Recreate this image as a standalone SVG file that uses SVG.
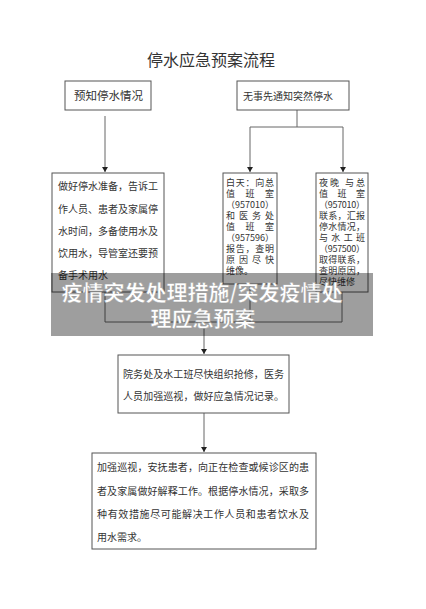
<svg xmlns="http://www.w3.org/2000/svg" width="426" height="609" viewBox="0 0 426 609">
<style>
.t{font-family:"Noto Sans CJK SC","Noto Sans CJK JP",sans-serif;fill:#333;font-size:10px}
.b{fill:#fff;stroke:#555;stroke-width:1}
.c{fill:none;stroke:#666;stroke-width:1}
.ov{font-family:"Noto Sans CJK SC",sans-serif;font-weight:bold;font-size:21px;fill:#fff;text-anchor:middle;stroke:#999;stroke-width:0.4}
</style>
<defs>
<marker id="ah" markerUnits="userSpaceOnUse" markerWidth="6" markerHeight="6" refX="5" refY="3" orient="auto">
<path d="M0,0 L5,3 L0,6 z" fill="#222"/>
</marker>
</defs>
<rect width="426" height="609" fill="#fff"/>
<text class="t" x="211" y="66" text-anchor="middle" style="font-size:16px">停水应急预案流程</text>

<g id="connectors">
<path class="c" d="M105,116 V172" marker-end="url(#ah)"/>
<path class="c" d="M297,110 V127 M250,127 H343"/>
<path class="c" d="M250,127 V172" marker-end="url(#ah)"/>
<path class="c" d="M343,127 V172" marker-end="url(#ah)"/>
<path class="c" d="M105,292 V322 H342 V292 M250,284 V322"/>
<path class="c" d="M204,322 V354" marker-end="url(#ah)"/>
<path class="c" d="M204,413 V452" marker-end="url(#ah)"/>
</g>

<g id="n1">
<rect class="b" x="65" y="81" width="86" height="29"/>
<text class="t" x="74" y="100" style="font-size:11.5px">预知停水情况</text>
</g>
<g id="n2">
<rect class="b" x="237" y="81" width="112" height="29"/>
<text class="t" x="243" y="100">无事先通知突然停水</text>
</g>
<g id="n3">
<rect class="b" x="52" y="173" width="112" height="119"/>
<text class="t" x="58" y="190" textLength="100" lengthAdjust="spacing">做好停水准备，告诉工</text>
<text class="t" x="58" y="213" textLength="100" lengthAdjust="spacing">作人员、患者及家属停</text>
<text class="t" x="58" y="235" textLength="100" lengthAdjust="spacing">水时间，多备使用水及</text>
<text class="t" x="58" y="257" textLength="100" lengthAdjust="spacing">饮用水，导管室还要预</text>
<text class="t" x="58" y="279">备手术用水</text>
</g>
<g id="n4" style="font-size:9px">
<rect class="b" x="223" y="173" width="54" height="111"/>
<text class="t" x="226" y="186" style="font-size:9px" textLength="48" lengthAdjust="spacing">白天：向总</text>
<text class="t" x="226" y="197" style="font-size:9px" textLength="48" lengthAdjust="spacing">值　班　室</text>
<text class="t" x="226" y="208" style="font-size:9px" textLength="48" lengthAdjust="spacing">（957010）</text>
<text class="t" x="226" y="219" style="font-size:9px" textLength="48" lengthAdjust="spacing">和医务处</text>
<text class="t" x="226" y="230" style="font-size:9px" textLength="48" lengthAdjust="spacing">值　班　室</text>
<text class="t" x="226" y="241" style="font-size:9px" textLength="48" lengthAdjust="spacing">（957596）</text>
<text class="t" x="226" y="252" style="font-size:9px" textLength="48" lengthAdjust="spacing">报告，查明</text>
<text class="t" x="226" y="263" style="font-size:9px" textLength="48" lengthAdjust="spacing">原因尽快</text>
<text class="t" x="226" y="274" style="font-size:9px">维像。</text>
</g>
<g id="n5">
<rect class="b" x="316" y="173" width="52" height="119"/>
<text class="t" x="319" y="186" style="font-size:9px" textLength="46" lengthAdjust="spacing">夜晚 与总</text>
<text class="t" x="319" y="197" style="font-size:9px" textLength="46" lengthAdjust="spacing">值　班　室</text>
<text class="t" x="319" y="208" style="font-size:9px" textLength="46" lengthAdjust="spacing">（957010）</text>
<text class="t" x="319" y="219" style="font-size:9px" textLength="46" lengthAdjust="spacing">联系，汇报</text>
<text class="t" x="319" y="230" style="font-size:9px" textLength="46" lengthAdjust="spacing">停水情况，</text>
<text class="t" x="319" y="241" style="font-size:9px" textLength="46" lengthAdjust="spacing">与水工班</text>
<text class="t" x="319" y="252" style="font-size:9px" textLength="46" lengthAdjust="spacing">（957500）</text>
<text class="t" x="319" y="263" style="font-size:9px" textLength="46" lengthAdjust="spacing">取得联系，</text>
<text class="t" x="319" y="274" style="font-size:9px" textLength="46" lengthAdjust="spacing">查明原因，</text>
<text class="t" x="319" y="285" style="font-size:9px">尽快维修</text>
</g>
<g id="n6">
<rect class="b" x="118" y="355" width="171" height="58"/>
<text class="t" x="123" y="378" textLength="161" lengthAdjust="spacing">院务处及水工班尽快组织抢修，医务</text>
<text class="t" x="123" y="400" textLength="161" lengthAdjust="spacing">人员加强巡视，做好应急情况记录。</text>
</g>
<g id="n7">
<rect class="b" x="92" y="453" width="224" height="96"/>
<text class="t" x="97" y="471" textLength="212" lengthAdjust="spacing">加强巡视，安抚患者，向正在检查或候诊区的患</text>
<text class="t" x="97" y="495" textLength="212" lengthAdjust="spacing">者及家属做好解释工作。根据停水情况，采取多</text>
<text class="t" x="97" y="518" textLength="212" lengthAdjust="spacing">种有效措施尽可能解决工作人员和患者饮水及</text>
<text class="t" x="97" y="541">用水需求。</text>
</g>

<g id="overlay">
<rect x="51" y="273" width="322" height="63" fill="#000" fill-opacity="0.38"/>
<text class="ov" x="202" y="300">疫情突发处理措施/突发疫情处</text>
<text class="ov" x="203" y="326">理应急预案</text>
</g>
</svg>
